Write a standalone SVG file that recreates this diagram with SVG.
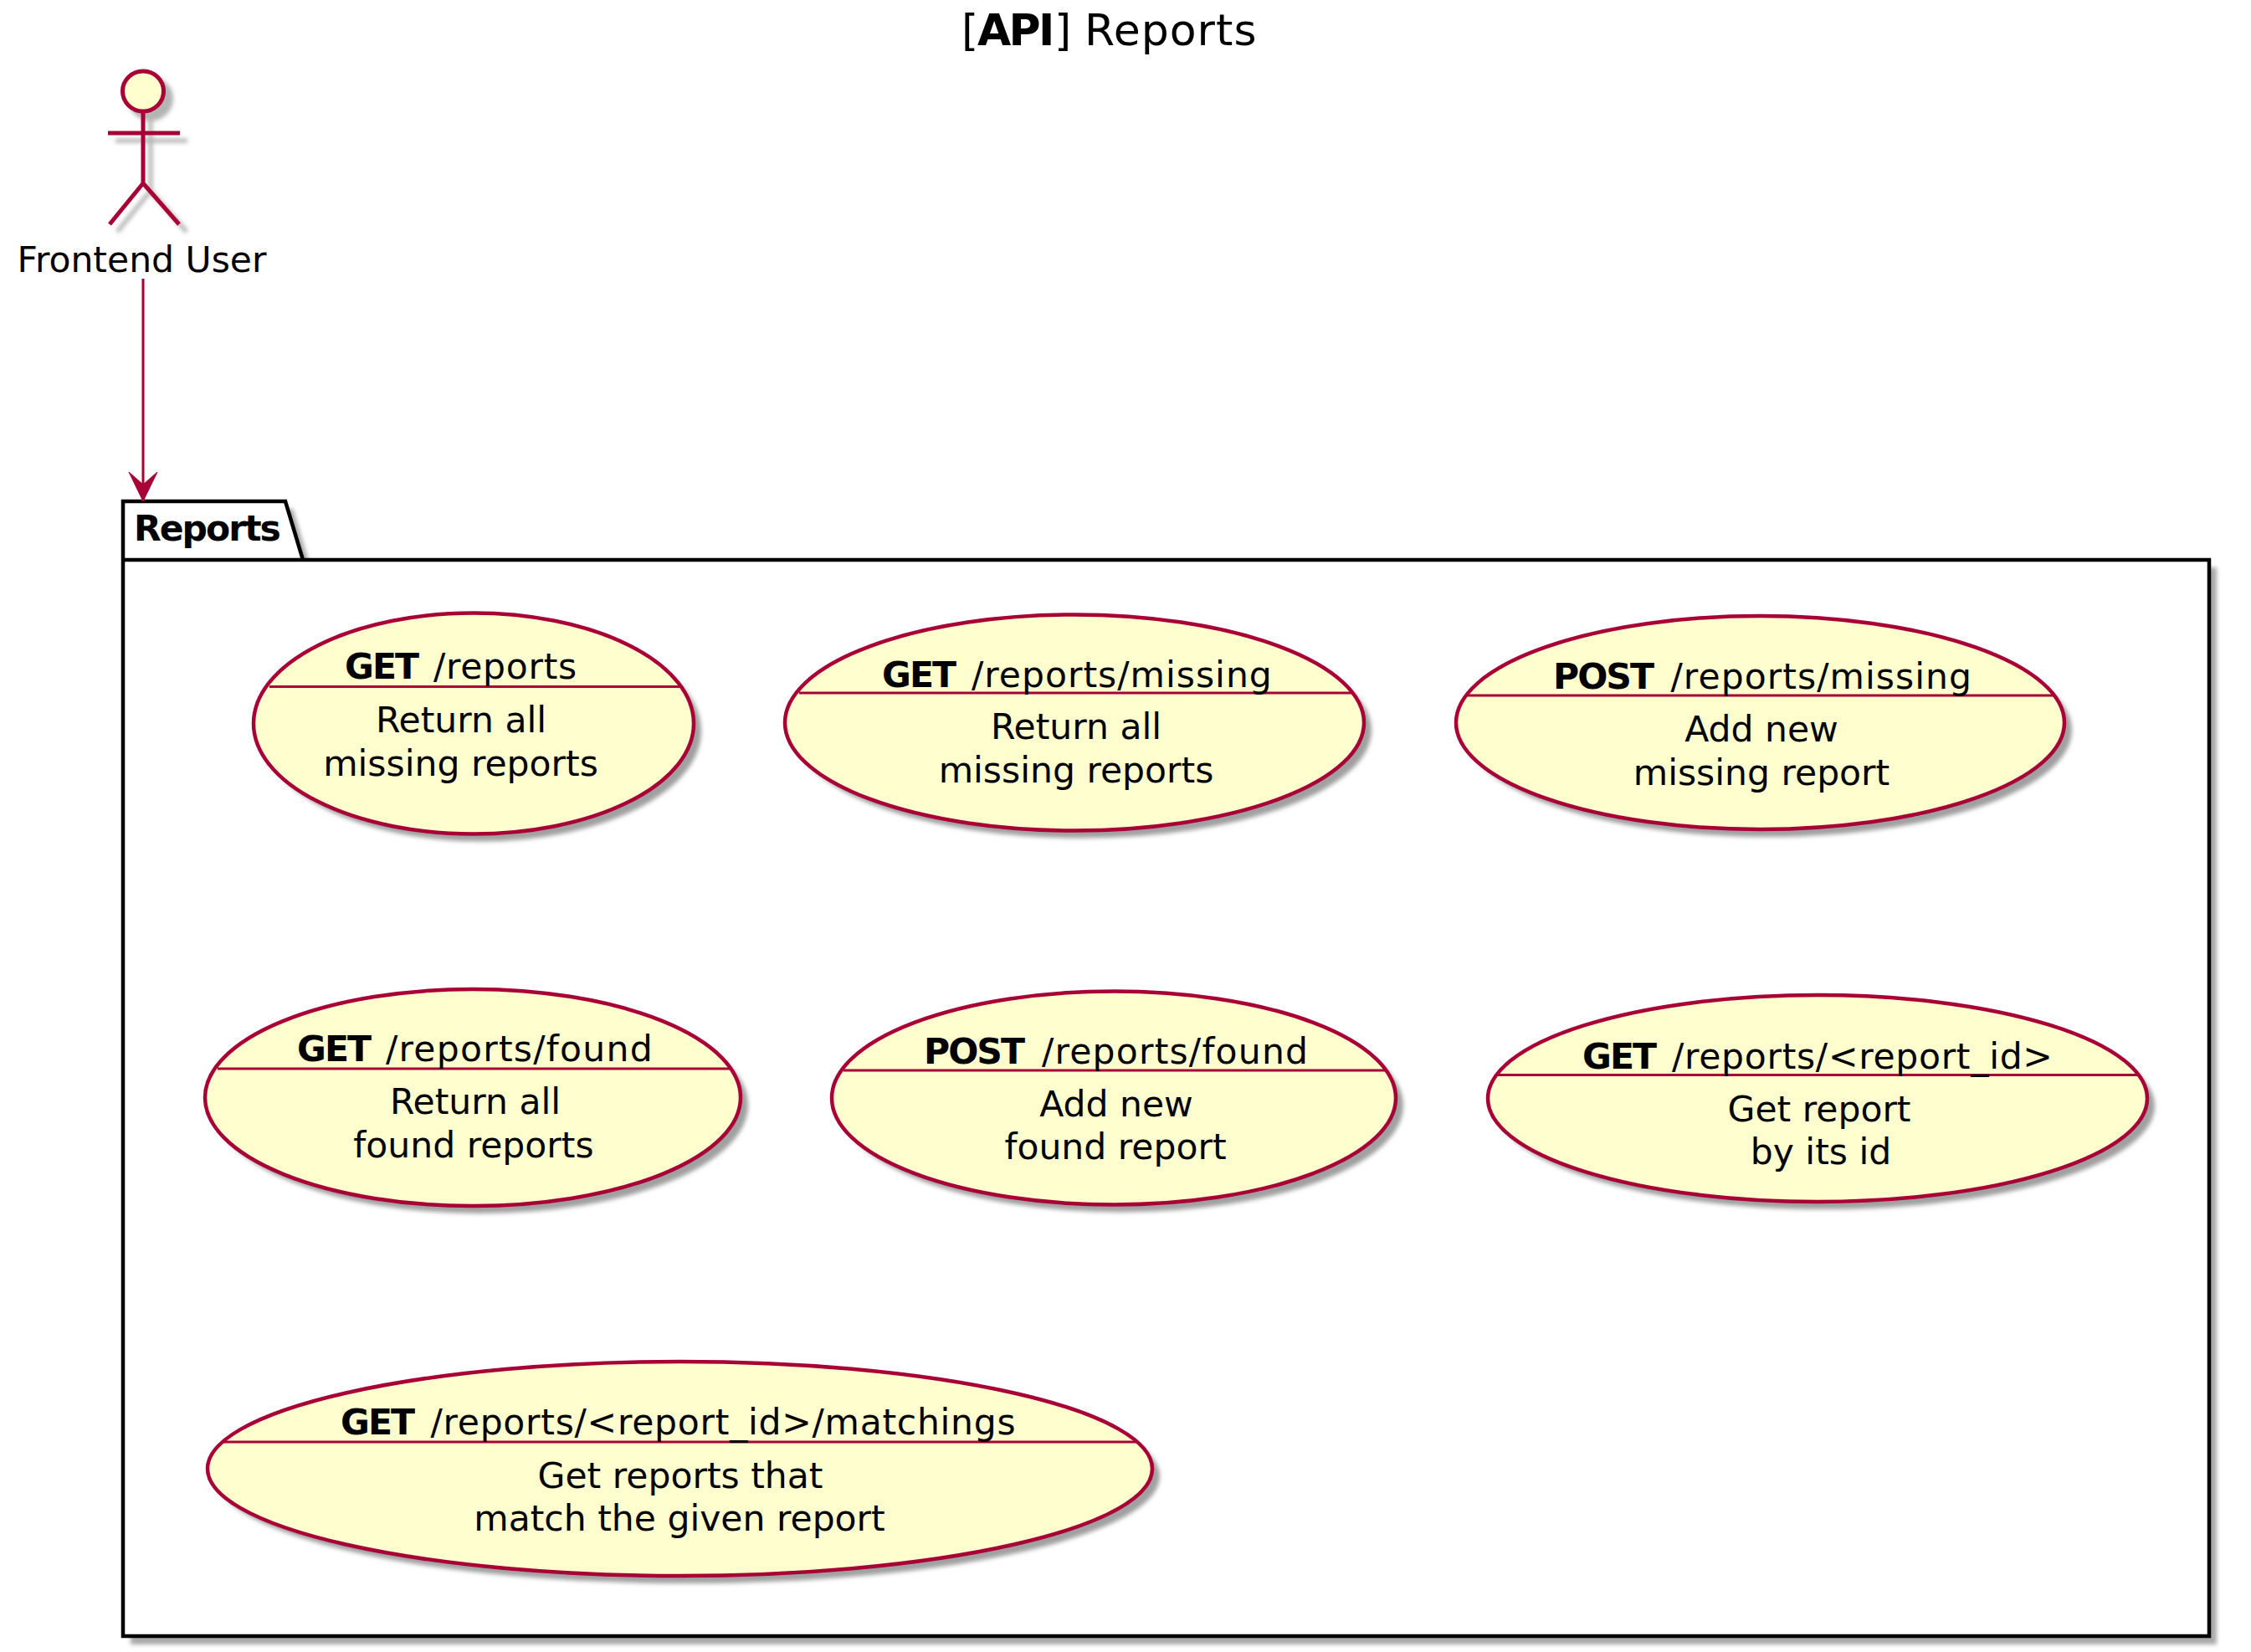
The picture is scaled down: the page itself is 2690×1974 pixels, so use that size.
<svg xmlns="http://www.w3.org/2000/svg" width="2690" height="1974" viewBox="0 0 2690 1974">
<defs>
<filter id="sh" x="-10%" y="-10%" width="125%" height="125%"><feGaussianBlur stdDeviation="2.5"/></filter>
<marker id="arrow" markerUnits="userSpaceOnUse" markerWidth="40" markerHeight="40" refX="17" refY="35" orient="0" overflow="visible"><path d="M0 0L17 15L34 0L17 35Z" fill="#A80036" stroke="#A80036" stroke-width="1"/></marker>
</defs>
<style>
text{font-family:"DejaVu Sans",sans-serif;fill:#000;font-size:42.5px}
.t{text-anchor:middle}
.uc ellipse.b{fill:#FEFECE;stroke:#A80036;stroke-width:4.5}
.uc ellipse.s{fill:#a0a0a0;filter:url(#sh)}
.uc line{stroke:#A80036;stroke-width:3}
.b2{font-weight:bold;letter-spacing:-2px}
</style>
<rect width="2690" height="1974" fill="#fff"/>
<text id="title" y="54" style="font-size:52px"><tspan x="1149">[</tspan><tspan x="1168" class="b2" style="letter-spacing:-2.7px">API</tspan><tspan x="1260">] </tspan><tspan x="1296" style="letter-spacing:1px">Reports</tspan></text>
<g id="pkg">
<path d="M147 599H341L362 669H2640V1956H147Z" fill="#a8a8a8" filter="url(#sh)" transform="translate(9 9)"/>
<path d="M147 669V599H341L362 669H2640V1955H147V669H362" fill="#fff" stroke="#000" stroke-width="4.5"/>
<text x="160" y="646" class="b2">Reports</text>
</g>
<g id="actor" fill="none" stroke="#A80036" stroke-width="5">
<g stroke="#b4b4b4" fill="#b4b4b4" filter="url(#sh)" transform="translate(9 9)"><ellipse cx="171" cy="109" rx="24.5" ry="24"/><path fill="none" d="M171 135V219M129 159H215M171 219L131 268M171 219L214 268"/></g>
<ellipse cx="171" cy="109" rx="24.5" ry="24" fill="#FEFECE"/>
<path d="M171 133V219M129 159H215M171 219L131 268M171 219L214 268"/>
<text x="169.5" y="325" text-anchor="middle" stroke="none">Frontend User</text>
</g>
<g id="connectors"><line x1="171" y1="333" x2="171" y2="599" stroke="#A80036" stroke-width="3" marker-end="url(#arrow)"/></g>
<g id="uc1" class="uc"><ellipse class="s" cx="575" cy="873.5" rx="263" ry="132"/><ellipse class="b" cx="566" cy="864.5" rx="263" ry="132"/><line x1="322" y1="820.5" x2="812" y2="820.5"/><text y="811"><tspan class="b2" x="412">GET</tspan><tspan x="518" style="letter-spacing:.7px">/reports</tspan></text><text class="t" x="551" y="875">Return all</text><text class="t" x="550.5" y="927">missing reports</text></g>
<g id="uc2" class="uc"><ellipse class="s" cx="1293" cy="872.5" rx="346" ry="129"/><ellipse class="b" cx="1284" cy="863.5" rx="346" ry="129"/><line x1="955" y1="828" x2="1615" y2="828"/><text y="821"><tspan class="b2" x="1054">GET</tspan><tspan x="1161" style="letter-spacing:1px">/reports/missing</tspan></text><text class="t" x="1286" y="883">Return all</text><text class="t" x="1286" y="935">missing reports</text></g>
<g id="uc3" class="uc"><ellipse class="s" cx="2112.5" cy="872.5" rx="363.5" ry="127.5"/><ellipse class="b" cx="2103.5" cy="863.5" rx="363.5" ry="127.5"/><line x1="1754" y1="831" x2="2454" y2="831"/><text y="822.5"><tspan class="b2" x="1856">POST</tspan><tspan x="1996.5" style="letter-spacing:1.05px">/reports/missing</tspan></text><text class="t" x="2105" y="885.5">Add new</text><text class="t" x="2105" y="938">missing report</text></g>
<g id="uc4" class="uc"><ellipse class="s" cx="574" cy="1320.5" rx="320" ry="129.5"/><ellipse class="b" cx="565" cy="1311.5" rx="320" ry="129.5"/><line x1="260" y1="1277" x2="872" y2="1277"/><text y="1268"><tspan class="b2" x="355">GET</tspan><tspan x="461" style="letter-spacing:1.25px">/reports/found</tspan></text><text class="t" x="568" y="1331">Return all</text><text class="t" x="566" y="1383">found reports</text></g>
<g id="uc5" class="uc"><ellipse class="s" cx="1340" cy="1321" rx="337" ry="127.5"/><ellipse class="b" cx="1331" cy="1312" rx="337" ry="127.5"/><line x1="1008" y1="1279" x2="1655" y2="1279"/><text y="1270.5"><tspan class="b2" x="1104">POST</tspan><tspan x="1245" style="letter-spacing:1.2px">/reports/found</tspan></text><text class="t" x="1334" y="1334">Add new</text><text class="t" x="1333" y="1385">found report</text></g>
<g id="uc6" class="uc"><ellipse class="s" cx="2181" cy="1321.5" rx="394" ry="123.5"/><ellipse class="b" cx="2172" cy="1312.5" rx="394" ry="123.5"/><line x1="1789" y1="1284.5" x2="2555" y2="1284.5"/><text y="1276.5"><tspan class="b2" x="1891">GET</tspan><tspan x="1998" style="letter-spacing:.7px">/reports/&lt;report_id&gt;</tspan></text><text class="t" x="2174" y="1340">Get report</text><text class="t" x="2176" y="1391">by its id</text></g>
<g id="uc7" class="uc"><ellipse class="s" cx="821.5" cy="1764" rx="564.5" ry="128"/><ellipse class="b" cx="812.5" cy="1755" rx="564.5" ry="128"/><line x1="266" y1="1723" x2="1360" y2="1723"/><text y="1714"><tspan class="b2" x="407">GET</tspan><tspan x="514.5" style="letter-spacing:.72px">/reports/&lt;report_id&gt;/matchings</tspan></text><text class="t" x="813" y="1778">Get reports that</text><text class="t" x="812" y="1829">match the given report</text></g>
</svg>
